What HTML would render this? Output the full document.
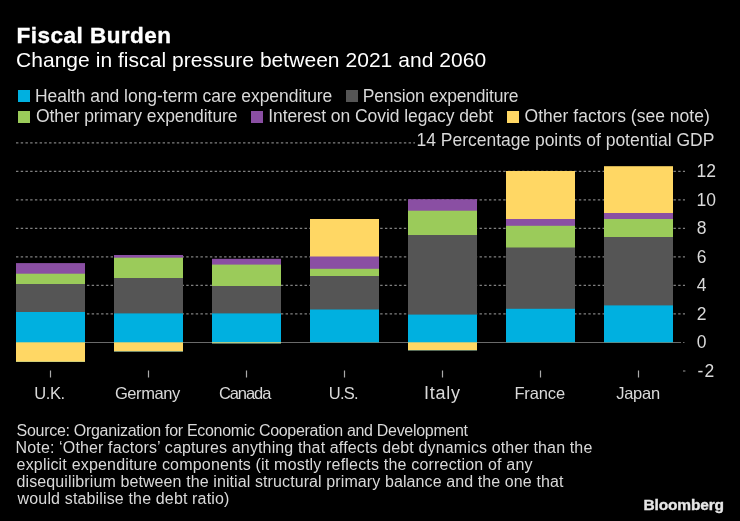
<!DOCTYPE html>
<html><head><meta charset="utf-8"><style>
html,body{margin:0;padding:0;background:#000;}
body{width:740px;height:521px;position:relative;overflow:hidden;font-family:"Liberation Sans",sans-serif;}
.t{position:absolute;white-space:pre;line-height:1;}
#txt{position:absolute;left:0;top:0;width:740px;height:521px;will-change:transform;}
svg{position:absolute;left:0;top:0;}
</style></head><body>
<svg width="740" height="521" viewBox="0 0 740 521">
<line x1="16" y1="142.8" x2="415" y2="142.8" stroke="#808080" stroke-width="1.2" stroke-dasharray="2.4 2.33"/>
<line x1="16" y1="171.3" x2="685" y2="171.3" stroke="#808080" stroke-width="1.2" stroke-dasharray="2.4 2.33"/>
<line x1="16" y1="199.8" x2="685" y2="199.8" stroke="#808080" stroke-width="1.2" stroke-dasharray="2.4 2.33"/>
<line x1="16" y1="228.3" x2="685" y2="228.3" stroke="#808080" stroke-width="1.2" stroke-dasharray="2.4 2.33"/>
<line x1="16" y1="256.8" x2="685" y2="256.8" stroke="#808080" stroke-width="1.2" stroke-dasharray="2.4 2.33"/>
<line x1="16" y1="285.3" x2="685" y2="285.3" stroke="#808080" stroke-width="1.2" stroke-dasharray="2.4 2.33"/>
<line x1="16" y1="313.8" x2="685" y2="313.8" stroke="#808080" stroke-width="1.2" stroke-dasharray="2.4 2.33"/>
<line x1="16" y1="342.5" x2="681" y2="342.5" stroke="#6a6a6a" stroke-width="1"/><rect x="683" y="342" width="1.5" height="1" fill="#6a6a6a"/>
<line x1="683" y1="371" x2="685.4" y2="371" stroke="#808080" stroke-width="1.2"/>
<rect x="16" y="263.1" width="69" height="98.70" fill="#8a4fa3"/>
<rect x="16" y="273.7" width="69" height="88.10" fill="#9bcb5a"/>
<rect x="16" y="284" width="69" height="77.80" fill="#555555"/>
<rect x="16" y="312" width="69" height="49.80" fill="#00b0e0"/>
<rect x="16" y="342.3" width="69" height="19.50" fill="#ffd764"/>
<line x1="50.5" y1="370.5" x2="50.5" y2="377.5" stroke="#aaa" stroke-width="1.2"/>
<rect x="114" y="255" width="69" height="96.30" fill="#8a4fa3"/>
<rect x="114" y="257.7" width="69" height="93.60" fill="#9bcb5a"/>
<rect x="114" y="278" width="69" height="73.30" fill="#555555"/>
<rect x="114" y="313.4" width="69" height="37.90" fill="#00b0e0"/>
<rect x="114" y="342.3" width="69" height="9.00" fill="#ffd764"/>
<line x1="148.5" y1="370.5" x2="148.5" y2="377.5" stroke="#aaa" stroke-width="1.2"/>
<rect x="212" y="258.8" width="69" height="84.40" fill="#8a4fa3"/>
<rect x="212" y="264.6" width="69" height="78.60" fill="#9bcb5a"/>
<rect x="212" y="286" width="69" height="57.20" fill="#555555"/>
<rect x="212" y="313.4" width="69" height="29.80" fill="#00b0e0"/>
<rect x="212" y="342.3" width="69" height="0.90" fill="#ffd764"/>
<line x1="246.5" y1="370.5" x2="246.5" y2="377.5" stroke="#aaa" stroke-width="1.2"/>
<rect x="310" y="219" width="69" height="123.30" fill="#ffd764"/>
<rect x="310" y="256.5" width="69" height="85.80" fill="#8a4fa3"/>
<rect x="310" y="268.8" width="69" height="73.50" fill="#9bcb5a"/>
<rect x="310" y="276" width="69" height="66.30" fill="#555555"/>
<rect x="310" y="309.5" width="69" height="32.80" fill="#00b0e0"/>
<line x1="344.5" y1="370.5" x2="344.5" y2="377.5" stroke="#aaa" stroke-width="1.2"/>
<rect x="408" y="199.2" width="69" height="151.00" fill="#8a4fa3"/>
<rect x="408" y="210.7" width="69" height="139.50" fill="#9bcb5a"/>
<rect x="408" y="235" width="69" height="115.20" fill="#555555"/>
<rect x="408" y="314.6" width="69" height="35.60" fill="#00b0e0"/>
<rect x="408" y="342.3" width="69" height="7.90" fill="#ffd764"/>
<line x1="442.5" y1="370.5" x2="442.5" y2="377.5" stroke="#aaa" stroke-width="1.2"/>
<rect x="506" y="171" width="69" height="171.30" fill="#ffd764"/>
<rect x="506" y="219" width="69" height="123.30" fill="#8a4fa3"/>
<rect x="506" y="225.8" width="69" height="116.50" fill="#9bcb5a"/>
<rect x="506" y="247.5" width="69" height="94.80" fill="#555555"/>
<rect x="506" y="308.8" width="69" height="33.50" fill="#00b0e0"/>
<line x1="540.5" y1="370.5" x2="540.5" y2="377.5" stroke="#aaa" stroke-width="1.2"/>
<rect x="604" y="166.2" width="69" height="176.10" fill="#ffd764"/>
<rect x="604" y="213" width="69" height="129.30" fill="#8a4fa3"/>
<rect x="604" y="219" width="69" height="123.30" fill="#9bcb5a"/>
<rect x="604" y="237" width="69" height="105.30" fill="#555555"/>
<rect x="604" y="305.4" width="69" height="36.90" fill="#00b0e0"/>
<line x1="638.5" y1="370.5" x2="638.5" y2="377.5" stroke="#aaa" stroke-width="1.2"/>
<rect x="18" y="90" width="12" height="12" fill="#00b0e0"/>
<rect x="346" y="90" width="12" height="12" fill="#555555"/>
<rect x="18" y="111" width="12" height="12" fill="#9bcb5a"/>
<rect x="251" y="111" width="12" height="12" fill="#8a4fa3"/>
<rect x="507" y="111" width="12" height="12" fill="#ffd764"/>
</svg>
<div id="txt">
<div class="t" style="left:16.50px;top:25px;font-size:22.5px;font-weight:bold;letter-spacing:0.480px;color:#ffffff;-webkit-text-stroke:0.35px #ffffff">Fiscal Burden</div>
<div class="t" style="left:16.00px;top:49px;font-size:21px;font-weight:normal;letter-spacing:0.042px;color:#ffffff">Change in fiscal pressure between 2021 and 2060</div>
<div class="t" style="left:35.00px;top:88px;font-size:17.5px;font-weight:normal;letter-spacing:-0.036px;color:#d9d9d9">Health and long-term care expenditure</div>
<div class="t" style="left:362.80px;top:88px;font-size:17.5px;font-weight:normal;letter-spacing:-0.213px;color:#d9d9d9">Pension expenditure</div>
<div class="t" style="left:36.00px;top:108px;font-size:17.5px;font-weight:normal;letter-spacing:-0.073px;color:#d9d9d9">Other primary expenditure</div>
<div class="t" style="left:268.20px;top:108px;font-size:17.5px;font-weight:normal;letter-spacing:-0.064px;color:#d9d9d9">Interest on Covid legacy debt</div>
<div class="t" style="left:524.60px;top:108px;font-size:17.5px;font-weight:normal;letter-spacing:0.019px;color:#d9d9d9">Other factors (see note)</div>
<div class="t" style="left:416.60px;top:132px;font-size:17.5px;font-weight:normal;letter-spacing:-0.025px;color:#d9d9d9">14 Percentage points of potential GDP</div>
<div class="t" style="left:34.30px;top:385px;font-size:16.5px;font-weight:normal;letter-spacing:-0.435px;color:#d9d9d9">U.K.</div>
<div class="t" style="left:114.90px;top:385px;font-size:16.5px;font-weight:normal;letter-spacing:-0.401px;color:#d9d9d9">Germany</div>
<div class="t" style="left:218.90px;top:385px;font-size:16.5px;font-weight:normal;letter-spacing:-1.064px;color:#d9d9d9">Canada</div>
<div class="t" style="left:328.70px;top:385px;font-size:16.5px;font-weight:normal;letter-spacing:-0.702px;color:#d9d9d9">U.S.</div>
<div class="t" style="left:423.90px;top:384px;font-size:18px;font-weight:normal;letter-spacing:0.772px;color:#d9d9d9">Italy</div>
<div class="t" style="left:514.40px;top:385px;font-size:16.5px;font-weight:normal;letter-spacing:-0.135px;color:#d9d9d9">France</div>
<div class="t" style="left:616.20px;top:385px;font-size:16.5px;font-weight:normal;letter-spacing:-0.245px;color:#d9d9d9">Japan</div>
<div class="t" style="left:16.60px;top:423px;font-size:16px;font-weight:normal;letter-spacing:-0.302px;color:#d9d9d9">Source: Organization for Economic Cooperation and Development</div>
<div class="t" style="left:15.60px;top:440px;font-size:16px;font-weight:normal;letter-spacing:0.138px;color:#d9d9d9">Note: ‘Other factors’ captures anything that affects debt dynamics other than the</div>
<div class="t" style="left:16.60px;top:457px;font-size:16px;font-weight:normal;letter-spacing:0.187px;color:#d9d9d9">explicit expenditure components (it mostly reflects the correction of any</div>
<div class="t" style="left:16.60px;top:474px;font-size:16px;font-weight:normal;letter-spacing:0.102px;color:#d9d9d9">disequilibrium between the initial structural primary balance and the one that</div>
<div class="t" style="left:17.60px;top:491px;font-size:16px;font-weight:normal;letter-spacing:0.150px;color:#d9d9d9">would stabilise the debt ratio)</div>
<div class="t" style="left:643.60px;top:497px;font-size:15.5px;font-weight:bold;letter-spacing:-0.180px;color:#e6e6e6;-webkit-text-stroke:0.35px #e6e6e6">Bloomberg</div>
<div class="t" style="left:696.60px;top:163px;font-size:17.5px;letter-spacing:0px;color:#d9d9d9">12</div>
<div class="t" style="left:696.60px;top:192px;font-size:17.5px;letter-spacing:0px;color:#d9d9d9">10</div>
<div class="t" style="left:696.80px;top:220px;font-size:17.5px;letter-spacing:0px;color:#d9d9d9">8</div>
<div class="t" style="left:696.80px;top:249px;font-size:17.5px;letter-spacing:0px;color:#d9d9d9">6</div>
<div class="t" style="left:696.80px;top:277px;font-size:17.5px;letter-spacing:0px;color:#d9d9d9">4</div>
<div class="t" style="left:696.80px;top:306px;font-size:17.5px;letter-spacing:0px;color:#d9d9d9">2</div>
<div class="t" style="left:696.80px;top:334px;font-size:17.5px;letter-spacing:0px;color:#d9d9d9">0</div>
<div class="t" style="left:697.60px;top:363px;font-size:17.5px;letter-spacing:1.2px;color:#d9d9d9">-2</div>
</div>
</body></html>
